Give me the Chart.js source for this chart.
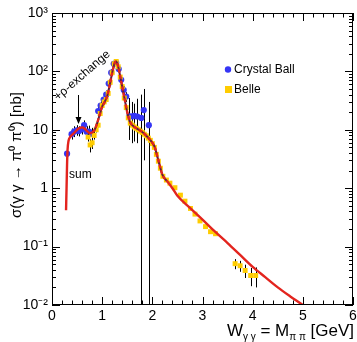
<!DOCTYPE html>
<html><head><meta charset="utf-8">
<script src="https://cdn.jsdelivr.net/npm/chart.js@4.4.1/dist/chart.umd.min.js"></script>
<style>html,body{margin:0;padding:0;background:#fff;}canvas{display:block;}</style>
</head><body>
<canvas id="c" width="357" height="342"></canvas>
<script>
// ---- data ----
const cbMass  = [0.30,0.39,0.44,0.49,0.54,0.59,0.64,0.69,0.74,0.79,0.92,0.97,1.03,1.08,1.13,1.18,1.23,1.28,1.33,1.38,1.43,1.48,1.54,1.60,1.64,1.70,1.78,1.83,1.93];
const cbSigma = [3.9,8.4,9.3,9.8,9.5,10.2,12,9.3,9.3,8.6,21,26,33,40,62,95,135,140,110,72,48,37,17,17,17.4,16.9,16,21.8,12];
const cbHigh  = [5.0,10.5,11.5,12,11.5,12.5,14.5,11.5,11.8,10.8,25,31,39,47,72,108,152,158,125,83,56,44,35,30,28,34,40,50,30];
const cbLow   = [3.0,6.8,7.5,7.9,7.7,8.3,9.8,7.4,7.0,6.6,17,21,27,33,52,82,118,122,95,61,40,30,6.7,5.9,6.3,5.9,0,3.0,0];

const belleMass  = [0.72,0.76,0.80,0.84,0.88,0.92,0.96,1.00,1.04,1.08,1.12,1.16,1.20,1.24,1.28,1.32,1.36,1.40,1.44,1.48,1.52,1.56,1.60,1.64,1.68,1.72,1.76,1.80,1.84,1.88,1.92,1.96,2.00,2.04,2.08,2.12,2.16,2.21,2.28,2.35,2.45,2.56,2.65,2.76,2.85,2.95,3.06,3.16,3.26,3.65,3.75,3.85,3.96,4.06];
const belleSigma = [7.5,5.5,6.0,8.0,10,12,19,26,30,33,42,65,95,135,148,120,80,55,35,24,16,13,12,11.2,10.6,10,9.5,9,8.4,7.9,7.2,6.6,5.8,5.0,3.8,2.9,2.2,1.6,1.38,1.22,1.02,0.76,0.60,0.45,0.36,0.275,0.22,0.18,0.166,0.051,0.047,0.039,0.032,0.032];
const belleErr   = [1.2,1.4,1.3,1.2,1.0,1.0,1.2,1.5,1.6,1.7,2,3,4,5,5,4,3,2.5,2,1.5,1.2,1.0,1.0,1.0,1.0,1.0,1.0,1.0,0.9,0.9,0.8,0.7,0.6,0.5,0.4,0.3,0.25,0.15,0.1,0.08,0.06,0.05,0.04,0.03,0.025,0.02,0.016,0.014,0.013,0.010,0.010,0.010,0.011,0.012];

const sumMass  = [0.28,0.29,0.30,0.31,0.33,0.36,0.40,0.45,0.50,0.55,0.60,0.65,0.70,0.75,0.80,0.85,0.90,0.95,1.00,1.05,1.10,1.15,1.20,1.25,1.28,1.32,1.36,1.40,1.45,1.50,1.55,1.60,1.70,1.80,1.90,1.95,2.00,2.05,2.10,2.15,2.20,2.30,2.40,2.50,2.75,3.00,3.25,3.50,3.75,4.00,4.25,4.50,4.75,5.00,5.05];
const sumSigma = [0.42,1.0,2.5,4.5,6.5,7.5,8.2,9.0,10,10.8,11,10.5,9.5,8.8,9.0,10,13,18,25,30,38,58,95,140,148,120,82,55,33,20,14,12,10.4,9.2,7.6,6.8,6,5,3.5,2.4,1.7,1.3,1.0,0.74,0.46,0.29,0.18,0.115,0.072,0.045,0.030,0.020,0.014,0.010,0.0093];

const xTickLabels = ['0','1','2','3','4','5','6'];
const yDecades    = [0.01,0.1,1,10,100,1000];
const yTickLabels = ['10\u207B\u00B2','10\u207B\u00B9','1','10','10\u00B2','10\u00B3'];

const FONT = "'Liberation Sans', Arial, Helvetica, sans-serif";
Chart.defaults.font.family = FONT;
Chart.defaults.color = '#000';

function decadeIndex(v){
  for (let i=0;i<yDecades.length;i++){ if (Math.abs(v/yDecades[i]-1)<1e-6) return i; }
  return -1;
}
const yAllTicks = [];
yDecades.forEach((d,i)=>{ yAllTicks.push(d); if(i<yDecades.length-1){ for(let k=2;k<=9;k++) yAllTicks.push(d*k); } });
const inDataRegion = c => c.p0.parsed.x >= 0.8 && c.p1.parsed.x <= 2.3;

const decor = {
  id:'decor',
  beforeDatasetDraw(chart,args){
    const ds = chart.data.datasets[args.index];
    if(!ds.errLo) return;
    const ctx=chart.ctx,a=chart.chartArea,xs=chart.scales.x,ys=chart.scales.y;
    ctx.save();
    ctx.beginPath(); ctx.rect(a.left,a.top,a.right-a.left,a.bottom-a.top); ctx.clip();
    ctx.strokeStyle = ds.errColor; ctx.lineWidth = 1;
    ds.data.forEach((p,i)=>{
      const px = Math.round(xs.getPixelForValue(p.x))+0.5;
      const lo = Math.max(ds.errLo[i],1e-4);
      ctx.beginPath();
      ctx.moveTo(px, ys.getPixelForValue(lo));
      ctx.lineTo(px, ys.getPixelForValue(ds.errHi[i]));
      ctx.stroke();
    });
    ctx.restore();
  },
  afterDraw(chart){
    const ctx=chart.ctx,a=chart.chartArea,xs=chart.scales.x,ys=chart.scales.y;
    ctx.save();
    ctx.strokeStyle='#000'; ctx.lineWidth=1;
    ctx.strokeRect(Math.round(a.left)+0.5,Math.round(a.top)+0.5,Math.round(a.right-a.left)-1,Math.round(a.bottom-a.top)-1);
    xs.ticks.forEach(t=>{
      const px=Math.round(xs.getPixelForValue(t.value))+0.5;
      const major=Math.abs(t.value-Math.round(t.value))<1e-6;
      const L=major?8:4.5;
      ctx.beginPath();
      ctx.moveTo(px,a.bottom); ctx.lineTo(px,a.bottom-L);
      ctx.moveTo(px,a.top); ctx.lineTo(px,a.top+L);
      ctx.stroke();
    });
    ys.ticks.forEach(t=>{
      const py=Math.round(ys.getPixelForValue(t.value))+0.5;
      const major=decadeIndex(t.value)>=0;
      const L=major?8:4;
      ctx.beginPath();
      ctx.moveTo(a.left,py); ctx.lineTo(a.left+L,py);
      ctx.moveTo(a.right,py); ctx.lineTo(a.right-L,py);
      ctx.stroke();
    });
    ctx.fillStyle='#000';
    // y title, fitted to the reference span
    const yt='\u03C3(\u03B3 \u03B3 \u2192 \u03C0\u2070 \u03C0\u2070) [nb]';
    ctx.font='15px '+FONT;
    const fs=Math.min(15,15*142/ctx.measureText(yt).width);
    ctx.save();
    ctx.translate(17,155);
    ctx.rotate(-Math.PI/2);
    ctx.textAlign='center'; ctx.textBaseline='middle';
    ctx.font=fs.toFixed(2)+'px '+FONT;
    ctx.fillText(yt,0,0);
    ctx.restore();
    // x title with subscripts
    const parts=[['W',17,0],['\u03B3 \u03B3',10,4],[' = M',17,0],['\u03C0 \u03C0',10,4],[' [GeV]',17,0]];
    let w=0; parts.forEach(p=>{ctx.font=p[1]+'px '+FONT; w+=ctx.measureText(p[0]).width;});
    let x=a.right+1-w; const base=336;
    ctx.textAlign='left'; ctx.textBaseline='alphabetic';
    parts.forEach(p=>{ctx.font=p[1]+'px '+FONT; ctx.fillText(p[0],x,base+p[2]); x+=ctx.measureText(p[0]).width;});
    // legend
    ctx.font='12px '+FONT; ctx.textBaseline='middle';
    ctx.fillStyle='#3535F5'; ctx.beginPath(); ctx.arc(228,69.5,3.2,0,Math.PI*2); ctx.fill();
    ctx.fillStyle='#FFCC00'; ctx.fillRect(225,86,7,7);
    ctx.fillStyle='#000';
    ctx.fillText('Crystal Ball',234,70);
    ctx.fillText('Belle',234,90);
    // annotations
    ctx.font='12px '+FONT; ctx.textBaseline='alphabetic';
    ctx.fillText('sum',69,178);
    ctx.save(); ctx.translate(58,101); ctx.rotate(-41*Math.PI/180);
    ctx.fillText('+\u03C1-exchange',0,0); ctx.restore();
    ctx.beginPath(); ctx.moveTo(78.5,95); ctx.lineTo(78.5,118); ctx.stroke();
    ctx.beginPath(); ctx.moveTo(75.5,117); ctx.lineTo(81.5,117); ctx.lineTo(78.5,124); ctx.closePath(); ctx.fill();
    ctx.restore();
  }
};

const chart = new Chart(document.getElementById('c'),{
  type:'scatter',
  data:{datasets:[
    {label:'sum',data:sumMass.map((x,i)=>({x,y:sumSigma[i]})),showLine:true,borderColor:'#E3241E',borderWidth:2.4,
     pointRadius:0,cubicInterpolationMode:'monotone',order:0,
     segment:{borderDash:c=>inDataRegion(c)?[4,2]:undefined}},
    {label:'sum shadow',data:sumMass.map((x,i)=>({x,y:sumSigma[i]})),showLine:true,borderColor:'rgba(0,0,0,0)',borderWidth:2,
     pointRadius:0,cubicInterpolationMode:'monotone',order:1,
     segment:{borderColor:c=>inDataRegion(c)?'#5A2040':undefined}},
    {label:'Belle',data:belleMass.map((x,i)=>({x,y:belleSigma[i]})),
     errLo:belleSigma.map((v,i)=>v-belleErr[i]),errHi:belleSigma.map((v,i)=>v+belleErr[i]),errColor:'#000',
     pointStyle:'rect',pointRadius:3.5,backgroundColor:'#FFCC00',borderWidth:0,showLine:false,order:2},
    {label:'Crystal Ball',data:cbMass.map((x,i)=>({x,y:cbSigma[i]})),errLo:cbLow,errHi:cbHigh,errColor:'#000',
     pointStyle:'circle',pointRadius:3.1,backgroundColor:'#3535F5',borderWidth:0,showLine:false,order:3}
  ]},
  options:{
    responsive:false,animation:false,
    layout:{padding:{left:0,top:13,right:3,bottom:0}},
    plugins:{legend:{display:false},tooltip:{enabled:false}},
    scales:{
      x:{type:'linear',min:0,max:6,
         grid:{display:false,drawTicks:false},border:{display:false},
         ticks:{stepSize:0.2,autoSkip:false,maxRotation:0,padding:3,font:{size:14},color:'#000',
           callback:v=>Math.abs(v-Math.round(v))<1e-6?xTickLabels[Math.round(v)]:''},
         afterFit:s=>{s.height=37;s.paddingLeft=0;s.paddingRight=0;}},
      y:{type:'logarithmic',min:0.01,max:1000,
         grid:{display:false,drawTicks:false},border:{display:false},
         afterBuildTicks:s=>{s.ticks=yAllTicks.map(v=>({value:v}));},
         ticks:{autoSkip:false,padding:4,font:{size:14},color:'#000',
           callback:v=>{const i=decadeIndex(v);return i>=0?yTickLabels[i]:'';}},
         afterFit:s=>{s.width=52;s.paddingTop=0;s.paddingBottom=0;}}
    }
  },
  plugins:[decor]
});
</script>
</body></html>
